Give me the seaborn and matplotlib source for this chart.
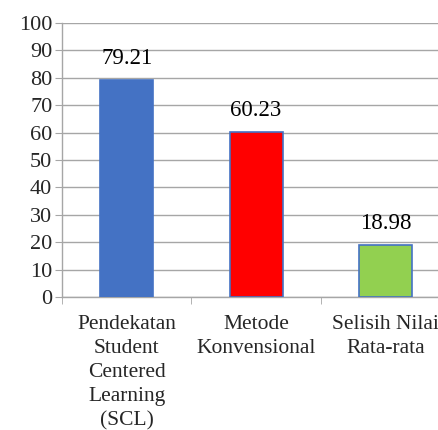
import numpy as np
import matplotlib
matplotlib.use("Agg")
import matplotlib.pyplot as plt
import seaborn as sns

categories = ["Pendekatan\nStudent\nCentered\nLearning\n(SCL)", "Metode\nKonvensional", "Selisih Nilai\nRata-rata"]
values = [79.21, 60.23, 18.98]
labels = ["79.21", "60.23", "18.98"]
colors = ["#4472C4", "#FF0000", "#92D050"]

sns.set_style("white")
plt.rcParams['font.family'] = 'serif'
plt.rcParams['font.serif'] = ['Liberation Serif', 'Times New Roman', 'DejaVu Serif']

fig = plt.figure(figsize=(4.38, 4.30), dpi=100)
ax = fig.add_axes([62/438, 1 - 297/430, 1 - 62/438, (297 - 23)/430])

sns.barplot(x=categories, y=values, hue=categories, palette=colors, legend=False,
            width=0.41, edgecolor="#4472C4", linewidth=1.2, saturation=1, ax=ax, zorder=3)

for i, (v, t) in enumerate(zip(values, labels)):
    ax.text(i, v + 8, t, ha="center", va="center", fontsize=16.5, color="black")

ax.set_ylim(0, 100)
ax.set_yticks(np.arange(0, 101, 10))
ax.set_xlim(-0.5, 2.5 - 12/129)
ax.grid(axis="y", color="#A6A6A6", linewidth=1, zorder=0)
for s in ["top", "right"]:
    ax.spines[s].set_visible(False)
for s in ["left", "bottom"]:
    ax.spines[s].set_color("#A6A6A6")
    ax.spines[s].set_linewidth(1)

ax.tick_params(axis="y", which="major", length=5, color="#A6A6A6", labelsize=16, pad=2, left=True)
ax.tick_params(axis="x", which="major", length=0, labelsize=15.5, pad=13)
ax.set_xticks([-0.5, 0.5, 1.5], minor=True)
ax.tick_params(axis="x", which="minor", length=5, color="#A6A6A6", bottom=True)
for lbl in ax.get_xticklabels():
    lbl.set_linespacing(1.35)
ax.set_xlabel("")
ax.set_ylabel("")

fig.savefig("out.png", dpi=100)
